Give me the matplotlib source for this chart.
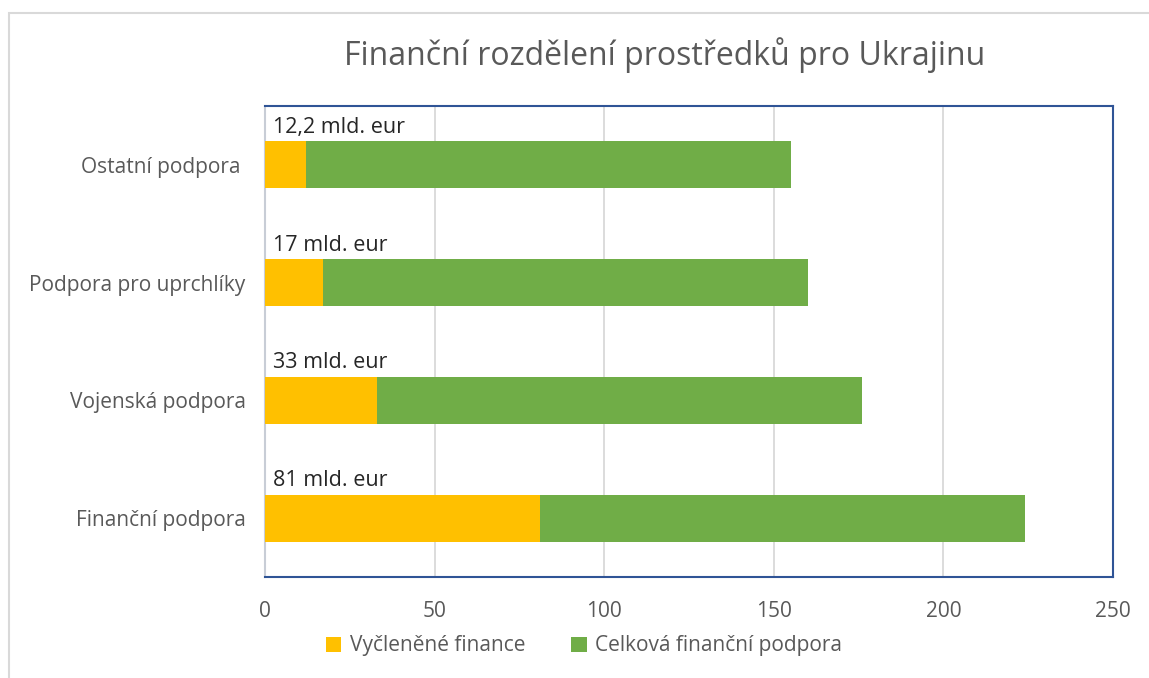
import matplotlib
matplotlib.use("Agg")
import matplotlib.pyplot as plt
from matplotlib.patches import Rectangle

categories = ["Finanční podpora", "Vojenská podpora", "Podpora pro uprchlíky", "Ostatní podpora "]
allocated = [81, 33, 17, 12.2]
total = [143, 143, 143, 143]
labels = ["81 mld. eur", "33 mld. eur", "17 mld. eur", "12,2 mld. eur"]
series_names = ["Vyčleněné finance", "Celková finanční podpora"]
xticks = [0, 50, 100, 150, 200, 250]

plt.rcParams['font.family'] = ['Open Sans', 'DejaVu Sans']
txt = '#595959'
yellow = '#FFC000'
green = '#70AD47'

fig = plt.figure(figsize=(11.49, 6.78), dpi=100)
W, H = 1149, 678
ax = fig.add_axes([265 / W, 1 - 577 / H, (1113 - 265) / W, (577 - 106) / H])

y = list(range(len(categories)))
ax.barh(y, allocated, height=0.4, color=yellow, label=series_names[0], zorder=3)
ax.barh(y, total, left=allocated, height=0.4, color=green, label=series_names[1], zorder=3)

for yi, lab in zip(y, labels):
    ax.text(2.3, yi + 0.23, lab, ha='left', va='bottom', fontsize=15.5, color='#262626', zorder=4)

ax.set_xlim(0, 250)
ax.set_ylim(-0.5, 3.5)
ax.set_xticks(xticks)
ax.set_xticklabels([str(t) for t in xticks])
ax.set_yticks(y)
ax.set_yticklabels(categories)
ax.tick_params(axis='both', length=0, labelsize=15, colors=txt)
ax.tick_params(axis='x', pad=17)
ax.tick_params(axis='y', pad=14)
ax.grid(axis='x', color='#d9d9d9', linewidth=1.3, zorder=0)
for s in ['top', 'right', 'bottom']:
    ax.spines[s].set_color('#2F5496')
    ax.spines[s].set_linewidth(1.5)
ax.spines['left'].set_color('#c8cdd6')
ax.spines['left'].set_linewidth(1.5)

fig.text(665 / W, 1 - 55 / H, "Finanční rozdělení prostředků pro Ukrajinu", ha='center', va='center',
         fontsize=23, color=txt)

leg = fig.legend(loc='center', bbox_to_anchor=(584 / W, 1 - 646 / H), ncol=2, frameon=False,
                 fontsize=15, labelcolor=txt, handlelength=0.75, handleheight=0.75,
                 handletextpad=0.4, columnspacing=2.2)

# outer chart border (light gray)
fig.add_artist(Rectangle((8.5 / W, -0.1), 1.2, 1 - 12.5 / H + 0.1, transform=fig.transFigure,
                         fill=False, edgecolor='#d9d9d9', linewidth=1.5))

fig.savefig("out.png", dpi=100)
